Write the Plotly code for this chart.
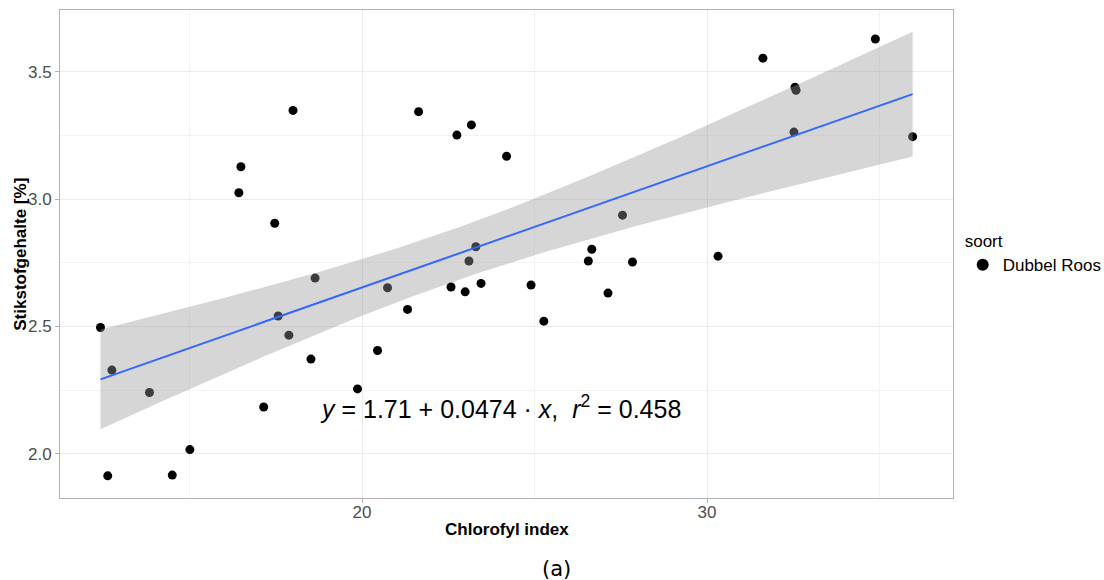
import numpy as np
import plotly.graph_objects as go

# Data
chlorofyl = [18.00, 16.49, 16.43, 17.47, 18.64,
             12.42, 12.75, 13.84, 12.63, 14.50, 15.01, 17.15, 17.57, 17.88, 18.52, 19.87, 20.45,
             21.64, 22.75, 23.17, 24.19, 20.74, 21.32, 22.58, 22.99, 23.45, 23.10, 23.30,
             24.90, 25.27, 26.56, 26.66, 27.13, 27.55, 27.84, 30.32,
             31.62, 34.88, 32.55, 32.58, 32.52, 35.96]
stikstof = [3.348, 3.127, 3.025, 2.905, 2.690,
            2.496, 2.329, 2.241, 1.914, 1.917, 2.017, 2.184, 2.541, 2.466, 2.372, 2.255, 2.406,
            3.343, 3.251, 3.291, 3.168, 2.652, 2.567, 2.655, 2.636, 2.669, 2.757, 2.813,
            2.663, 2.521, 2.757, 2.803, 2.631, 2.937, 2.753, 2.776,
            3.553, 3.628, 3.439, 3.427, 3.263, 3.245]
series_name = "Dubbel Roos"
legend_title = "soort"
x_ticks = [20, 30]
y_ticks = [2.0, 2.5, 3.0, 3.5]
y_tick_labels = ["2.0", "2.5", "3.0", "3.5"]
x_title = "Chlorofyl index"
y_title = "Stikstofgehalte [%]"
eq_text = "<i>y</i> = 1.71 + 0.0474 · <i>x</i>,  <i>r</i><sup>2</sup> = 0.458"
eq_pos = (24.0, 2.184)
caption = "(a)"
t_crit = 2.021  # t(0.975, df=40)

x = np.array(chlorofyl)
y = np.array(stikstof)
n = len(x)
slope, intercept = np.polyfit(x, y, 1)
resid = y - (intercept + slope * x)
s = np.sqrt(np.sum(resid ** 2) / (n - 2))
xbar = x.mean()
sxx = np.sum((x - xbar) ** 2)
xs = np.linspace(x.min(), x.max(), 80)
yhat = intercept + slope * xs
se = s * np.sqrt(1 / n + (xs - xbar) ** 2 / sxx)
upper = yhat + t_crit * se
lower = yhat - t_crit * se

fig = go.Figure()
fig.add_trace(go.Scatter(
    x=chlorofyl, y=stikstof, mode="markers", name=series_name,
    marker=dict(color="black", size=9), showlegend=True))
fig.add_trace(go.Scatter(
    x=np.concatenate([xs, xs[::-1]]), y=np.concatenate([upper, lower[::-1]]),
    mode="lines", fill="toself", fillcolor="rgba(153,153,153,0.4)",
    line=dict(width=0), hoverinfo="skip", showlegend=False))
fig.add_trace(go.Scatter(
    x=xs, y=yhat, mode="lines", line=dict(color="#3366FF", width=2),
    showlegend=False, hoverinfo="skip"))

fig.add_annotation(x=eq_pos[0], y=eq_pos[1], xref="x", yref="y", text=eq_text,
                   showarrow=False, font=dict(family="Liberation Sans", size=25, color="black"))
fig.add_annotation(x=0.556, y=-0.146, xref="paper", yref="paper", text=caption,
                   showarrow=False, xanchor="center", yanchor="middle",
                   font=dict(family="DejaVu Sans", size=21, color="black"))
fig.add_annotation(x=0.5, y=-0.064, xref="paper", yref="paper", text="<b>" + x_title + "</b>",
                   showarrow=False, xanchor="center", yanchor="middle",
                   font=dict(family="Liberation Sans", size=17, color="black"))
fig.add_annotation(x=-0.0451, y=0.5, xref="paper", yref="paper", text="<b>" + y_title + "</b>",
                   showarrow=False, xanchor="center", yanchor="middle", textangle=-90,
                   font=dict(family="Liberation Sans", size=17, color="black"))

axis_common = dict(
    showline=True, linecolor="#b3b3b3", linewidth=1, mirror=True,
    gridcolor="#ebebeb", gridwidth=1, zeroline=False, automargin=False,
    ticks="outside", ticklen=4, tickcolor="#b3b3b3", tickwidth=1,
    tickfont=dict(family="Liberation Sans", size=17, color="#4d4d4d"),
)
fig.update_xaxes(
    range=[11.246, 37.13], tickvals=x_ticks, ticktext=[str(v) for v in x_ticks],
    minor=dict(dtick=5, tick0=0, showgrid=True, gridcolor="#f3f3f3", gridwidth=1, ticks=""),
    ticklabelstandoff=-5,
    **axis_common)
fig.update_yaxes(
    range=[1.827, 3.742], tickvals=y_ticks, ticktext=y_tick_labels,
    minor=dict(dtick=0.25, tick0=0, showgrid=True, gridcolor="#f3f3f3", gridwidth=1, ticks=""),
    **axis_common)

fig.update_layout(
    width=1104, height=580,
    margin=dict(l=60, r=151, t=10, b=82),
    plot_bgcolor="white", paper_bgcolor="white",
    font=dict(family="Liberation Sans"),
    legend=dict(title=dict(text=legend_title, font=dict(size=17, color="black")),
                font=dict(size=17, color="black"), xref="container", x=0.872, xanchor="left",
                y=0.5, yanchor="middle", bgcolor="rgba(0,0,0,0)", itemsizing="constant"),
)
fig.write_html("out.html", config={"displayModeBar": False},
               post_script="document.body.style.margin='0';document.body.style.padding='0';")
